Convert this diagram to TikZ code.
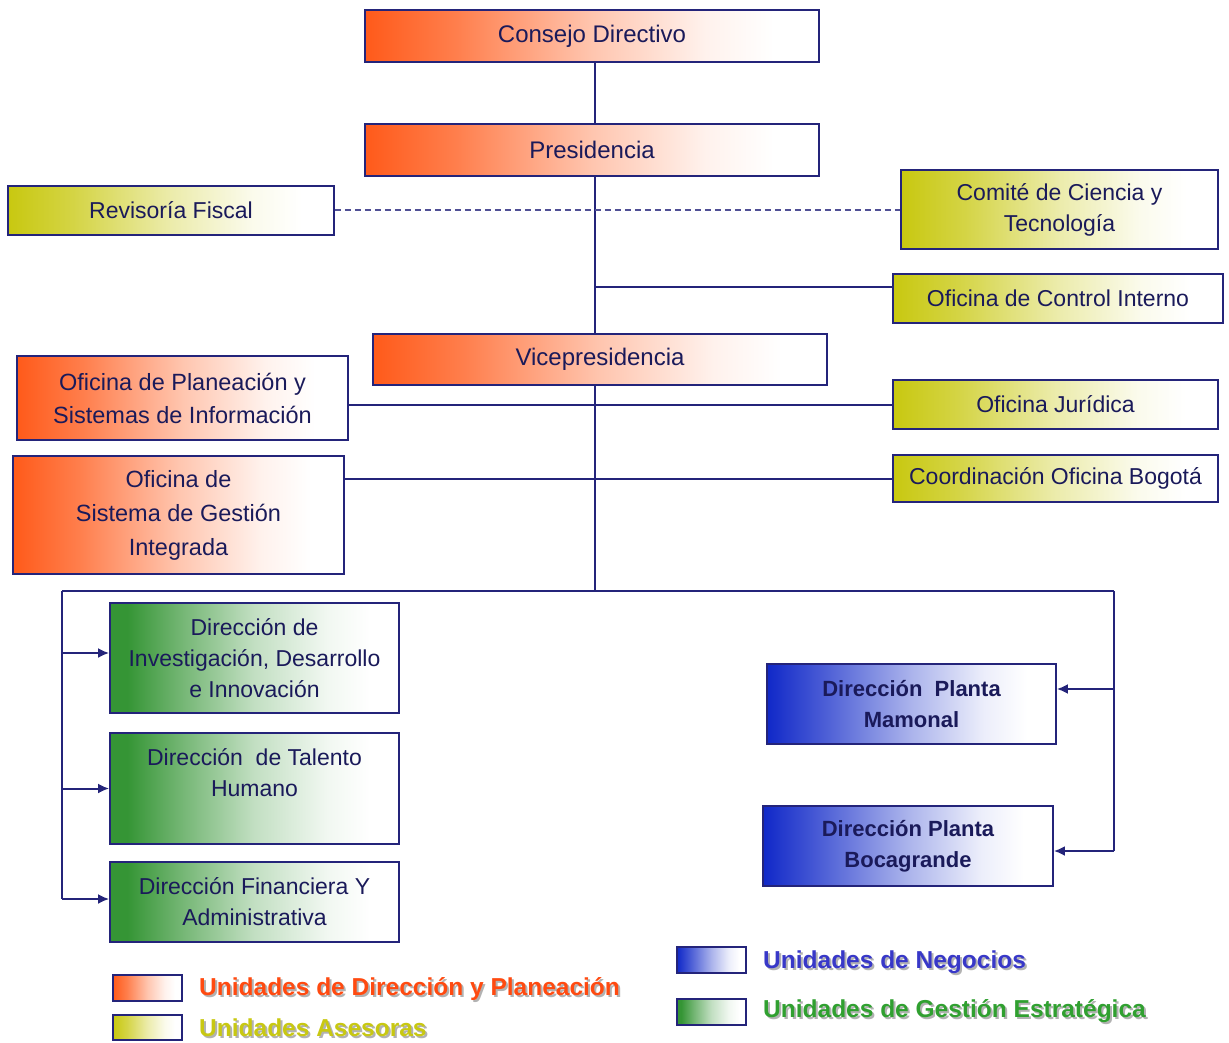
\documentclass[tikz,border=0pt]{standalone}
\usepackage{fontspec}
\setmainfont{Liberation Sans}
\usetikzlibrary{arrows.meta}
\definecolor{cOr}{HTML}{FF5A1A}
\definecolor{cYe}{HTML}{C8C810}
\definecolor{cGr}{HTML}{359535}
\definecolor{cBl}{HTML}{1028C8}
\definecolor{navy}{HTML}{24247A}
\definecolor{txt}{HTML}{1A1A5A}
\definecolor{lOr}{HTML}{FF4A10}
\definecolor{lYe}{HTML}{C8C812}
\definecolor{lBl}{HTML}{3838C8}
\definecolor{lGr}{HTML}{30A030}
\pgfdeclarehorizontalshading{gOr}{100bp}{color(0bp)=(cOr); color(25bp)=(cOr); color(35bp)=(cOr!78!white); color(50bp)=(cOr!35!white); color(62.5bp)=(cOr!8!white); color(70bp)=(white); color(100bp)=(white)}
\pgfdeclarehorizontalshading{gYe}{100bp}{color(0bp)=(cYe); color(25bp)=(cYe); color(35bp)=(cYe!78!white); color(50bp)=(cYe!35!white); color(62.5bp)=(cYe!8!white); color(70bp)=(white); color(100bp)=(white)}
\pgfdeclarehorizontalshading{gGr}{100bp}{color(0bp)=(cGr); color(25bp)=(cGr); color(28bp)=(cGr); color(37bp)=(cGr!70!white); color(50bp)=(cGr!30!white); color(62.5bp)=(cGr!7!white); color(70bp)=(white); color(100bp)=(white)}
\pgfdeclarehorizontalshading{gBl}{100bp}{color(0bp)=(cBl); color(25bp)=(cBl); color(35bp)=(cBl!75!white); color(50bp)=(cBl!35!white); color(62.5bp)=(cBl!8!white); color(70bp)=(white); color(100bp)=(white)}
\newcommand{\shtext}[2]{\makebox[0pt][l]{\hspace{2pt}\raisebox{-2pt}{\textcolor{black!30}{#2}}}\textcolor{#1}{#2}}
\begin{document}
\begin{tikzpicture}[x=1pt,y=-1pt,
  box/.style={draw=navy, line width=1.8pt, inner sep=0pt, align=center, text=txt,
    font=\fontsize{23}{31}\selectfont},
  orng/.style={box, shade, shading=gOr},
  yelw/.style={box, shade, shading=gYe},
  gren/.style={box, shade, shading=gGr},
  blue/.style={box, shade, shading=gBl, font=\bfseries\fontsize{22}{31}\selectfont},
  legbox/.style={draw=navy, line width=1.8pt, inner sep=0pt, minimum width=69pt, minimum height=26pt},
  legtext/.style={anchor=west, inner sep=0pt, font=\bfseries\fontsize{24.5}{28}\selectfont},
  conn/.style={draw=navy, line width=2pt},
  dashconn/.style={draw=navy!80, line width=2pt, dash pattern=on 6pt off 4pt},
  arr/.style={conn, -{Latex[length=11pt,width=10pt]}}]
\useasboundingbox (0,0) rectangle (1229,1043);
% nodes
\node[orng, minimum width=454pt, minimum height=52pt, font=\fontsize{24}{31}\selectfont] (consejo) at (592,36) {Consejo Directivo};
\node[orng, minimum width=454pt, minimum height=52pt, font=\fontsize{24}{31}\selectfont] (presid) at (592,150) {Presidencia};
\node[yelw, minimum width=326pt, minimum height=49pt] (revis) at (171,210.5) {Revisoría Fiscal};
\node[yelw, minimum width=317pt, minimum height=79pt] (comite) at (1059.5,209.5) {Comité de Ciencia y\\Tecnología};
\node[yelw, minimum width=330pt, minimum height=49pt] (control) at (1058,298.5) {Oficina de Control Interno};
\node[orng, minimum width=454pt, minimum height=51pt, font=\fontsize{24}{31}\selectfont] (vice) at (600,359.5) {Vicepresidencia};
\node[orng, minimum width=331pt, minimum height=84pt, font=\fontsize{23.5}{33}\selectfont] (planea) at (182.5,398) {Oficina de Planeación y\\Sistemas de Información};
\node[yelw, minimum width=325pt, minimum height=49pt] (jurid) at (1055.5,404.5) {Oficina Jurídica};
\node[orng, minimum width=331pt, minimum height=118pt, font=\fontsize{23.5}{34}\selectfont] (gestion) at (178.5,515) {Oficina de\\Sistema de Gestión\\Integrada};
\node[yelw, minimum width=325pt, minimum height=47pt] (bogota) at (1055.5,478.5) {Coordinación Oficina Bogotá};
\node[gren, minimum width=289pt, minimum height=110pt] (invest) at (254.5,658) {Dirección de\\Investigación, Desarrollo\\e Innovación};
\node[gren, minimum width=289pt, minimum height=111pt] (talento) at (254.5,788.5) {Dirección\ \ de Talento\\Humano\\\mbox{}};
\node[gren, minimum width=289pt, minimum height=80pt] (financ) at (254.5,902) {Dirección Financiera Y\\Administrativa};
\node[blue, minimum width=289pt, minimum height=80pt] (mamonal) at (911.5,704) {Dirección\ \ Planta\\Mamonal};
\node[blue, minimum width=290pt, minimum height=80pt] (bocag) at (908,846) {Dirección Planta\\Bocagrande};
% coordinates
\coordinate (tx) at (595,0);
\coordinate (jtop) at (595,591);
\coordinate (jl) at (62,591);
\coordinate (jr) at (1114,591);
% connectors
\draw[conn] (consejo.south -| tx) -- (presid.north -| tx);
\draw[conn] (presid.south -| tx) -- (vice.north -| tx);
\draw[conn] (vice.south -| tx) -- (jtop);
\draw[dashconn] (revis.east) -- (revis.east -| comite.west);
\draw[conn] ([yshift=11.5pt]control.west -| tx) -- ([yshift=11.5pt]control.west);
\draw[conn] (jurid.west -| planea.east) -- (jurid.west);
\draw[conn] (bogota.west -| gestion.east) -- (bogota.west);
\draw[conn] (jl) -- (jr);
\draw[conn] (jl) -- ([yshift=3pt]financ.west -| jl);
\draw[arr] ([yshift=5pt]invest.west -| jl) -- ([yshift=5pt]invest.west);
\draw[arr] (talento.west -| jl) -- (talento.west);
\draw[arr] ([yshift=3pt]financ.west -| jl) -- ([yshift=3pt]financ.west);
\draw[conn] (jr) -- ([yshift=-5pt]bocag.east -| jr);
\draw[arr] ([yshift=15pt]mamonal.east -| jr) -- ([yshift=15pt]mamonal.east);
\draw[arr] ([yshift=-5pt]bocag.east -| jr) -- ([yshift=-5pt]bocag.east);
% legend
\node[legbox, shade, shading=gOr] (lgo) at (147.5,988) {};
\node[legtext] (lgot) at (199,990) {\shtext{lOr}{Unidades de Dirección y Planeación}};
\node[legbox, shade, shading=gYe, minimum height=25pt] (lgy) at (147.5,1027.5) {};
\node[legtext] (lgyt) at (199,1029) {\shtext{lYe}{Unidades Asesoras}};
\node[legbox, shade, shading=gBl] (lgb) at (711.5,960) {};
\node[legtext] (lgbt) at (763,963) {\shtext{lBl}{Unidades de Negocios}};
\node[legbox, shade, shading=gGr] (lgg) at (711.5,1012) {};
\node[legtext] (lggt) at (763,1012) {\shtext{lGr}{Unidades de Gestión Estratégica}};
\end{tikzpicture}
\end{document}
